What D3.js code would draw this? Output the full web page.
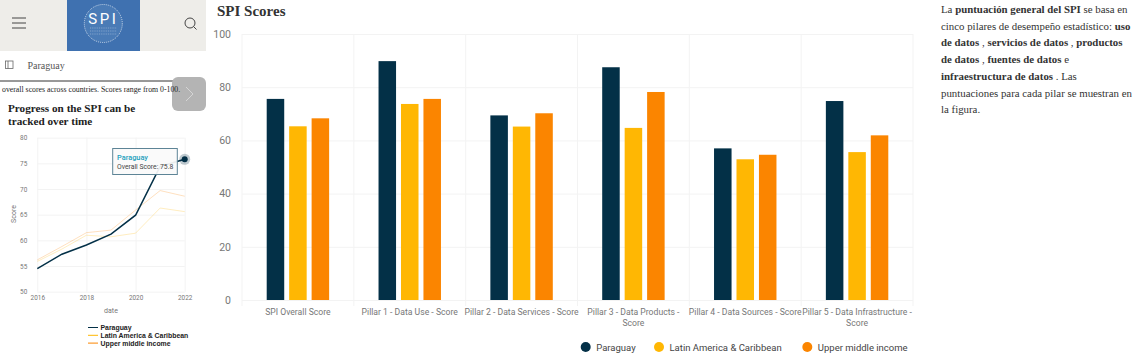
<!DOCTYPE html>
<html><head><meta charset="utf-8">
<script src="https://cdn.jsdelivr.net/npm/d3@7"></script>
<style>
html,body{margin:0;padding:0;background:#fff;overflow:hidden}
svg{display:block}
.serif{font-family:"Liberation Serif",serif}
.rob{font-family:Roboto,sans-serif}
.domain{display:none}
</style></head><body>
<svg id="c" width="1144" height="354"></svg>
<script>
const categories=[["SPI Overall Score"],["Pillar 1 - Data Use - Score"],["Pillar 2 - Data Services - Score"],["Pillar 3 - Data Products -","Score"],["Pillar 4 - Data Sources - Score"],["Pillar 5 - Data Infrastructure -","Score"]];
const seriesNames=["Paraguay","Latin America & Caribbean","Upper middle income"];
const seriesColors=["#033047","#ffb703","#fb8500"];
const paraguayScores=[75.6,89.8,69.4,87.5,57.0,74.8];
const latamScores=[65.3,73.7,65.2,64.7,52.9,55.6];
const upperScores=[68.3,75.6,70.2,78.2,54.6,61.9];
const barTicks=[0,20,40,60,80,100];
const years=[2016,2017,2018,2019,2020,2021,2022];
const paraguayTrend=[54.5,57.3,59.1,61.2,64.9,74.4,75.8];
const latamTrend=[55.9,58.3,61.0,60.7,61.4,66.3,65.6];
const upperTrend=[56.2,58.8,61.5,62.0,65.9,69.7,68.6];
const trendYTicks=[50,55,60,65,70,75,80];
const trendXTicks=[2016,2018,2020,2022];
const paragraphLines=[
 [["La ",0],["puntuación general del SPI",1],[" se basa en",0]],
 [["cinco pilares de desempeño estadístico: ",0],["uso",1]],
 [["de datos",1],[" , ",0],["servicios de datos",1],[" , ",0],["productos",1]],
 [["de datos",1],[" , ",0],["fuentes de datos",1],[" e",0]],
 [["infraestructura de datos",1],[" . Las",0]],
 [["puntuaciones para cada pilar se muestran en",0]],
 [["la figura.",0]]];

const svg=d3.select("#c");
// ---------- header panel
svg.append("rect").attr("width",206).attr("height",51).attr("fill","#eeede9");
svg.append("rect").attr("x",67).attr("width",73).attr("height",51).attr("fill","#3f71b0");
svg.append("circle").attr("cx",103.3).attr("cy",23.5).attr("r",19).attr("fill","#4a7bb6").attr("stroke","#c9d8ea").attr("stroke-width",1).attr("stroke-dasharray","1 1");
svg.append("text").attr("x",103.3).attr("y",24).attr("text-anchor","middle").attr("fill","#fff").attr("font-family","Roboto").attr("font-size",15).attr("letter-spacing",2.5).text("SPI");
[28,31,34].forEach(y=>svg.append("line").attr("x1",90).attr("x2",117).attr("y1",y).attr("y2",y).attr("stroke","#a9c1dd").attr("stroke-width",.6).attr("stroke-dasharray","1 .8"));
[18,23,28].forEach(y=>svg.append("line").attr("x1",12).attr("x2",26).attr("y1",y).attr("y2",y).attr("stroke","#444").attr("stroke-width",1));
svg.append("circle").attr("cx",190).attr("cy",23).attr("r",5).attr("fill","none").attr("stroke","#444").attr("stroke-width",1);
svg.append("line").attr("x1",193.5).attr("y1",26.5).attr("x2",196.5).attr("y2",29.5).attr("stroke","#444");
svg.append("rect").attr("x",5.5).attr("y",61).attr("width",7.5).attr("height",7.5).attr("fill","none").attr("stroke","#666").attr("stroke-width",.8);
svg.append("line").attr("x1",8).attr("x2",8).attr("y1",61).attr("y2",68.5).attr("stroke","#666").attr("stroke-width",.8);
svg.append("text").attr("class","serif").attr("x",27.5).attr("y",69).attr("font-size",10).attr("fill","#555").text("Paraguay");
svg.append("line").attr("x1",0).attr("x2",173).attr("y1",81).attr("y2",81).attr("stroke","#333").attr("stroke-width",1);
svg.append("rect").attr("x",172).attr("y",77).attr("width",34).attr("height",34).attr("rx",6).attr("fill","#b4b4b4");
svg.append("path").attr("d","M186 87l7 7-7 7").attr("fill","none").attr("stroke","#d5d5d5").attr("stroke-width",1);
svg.append("text").attr("class","serif").attr("x",2).attr("y",91.5).attr("font-size",7.8).attr("fill","#222").text("overall scores across countries. Scores range from 0-100.");
svg.append("text").attr("class","serif").attr("x",8).attr("y",112).attr("font-size",11.2).attr("font-weight","bold").attr("fill","#222").text("Progress on the SPI can be");
svg.append("text").attr("class","serif").attr("x",8).attr("y",125).attr("font-size",11.2).attr("font-weight","bold").attr("fill","#222").text("tracked over time");

// ---------- trend chart
const tx=d3.scaleLinear().domain([2016,2022]).range([37.3,184.7]);
const ty=d3.scaleLinear().domain([50,80]).range([291.7,137.7]);
const tg=svg.append("g").attr("class","rob");
const tyAxis=tg.append("g").attr("transform","translate(37.3,0)").call(d3.axisLeft(ty).tickValues(trendYTicks).tickSize(-147.4).tickPadding(10));
const txAxis=tg.append("g").attr("transform","translate(0,291.7)").call(d3.axisBottom(tx).tickValues(trendXTicks).tickFormat(d3.format("d")).tickSize(-154).tickPadding(4));
[tyAxis,txAxis].forEach(a=>{a.selectAll("line").attr("stroke","#f3f3f3");a.selectAll("text").attr("font-family","Roboto").attr("font-size",6.4).attr("fill","#777");});
tg.append("text").attr("transform","translate(16,214) rotate(-90)").attr("text-anchor","middle").attr("font-size",7).attr("fill","#777").text("Score");
tg.append("text").attr("x",111).attr("y",313).attr("text-anchor","middle").attr("font-size",7).attr("fill","#777").text("date");
const tline=d3.line().x((d,i)=>tx(years[i])).y(d=>ty(d));
[[upperTrend,"#fb8500",.25],[latamTrend,"#ffb703",.25],[paraguayTrend,seriesColors[0],1]].forEach(([v,c,o],i)=>{
 tg.append("path").attr("d",tline(v)).attr("fill","none").attr("stroke",c).attr("stroke-opacity",o).attr("stroke-width",i==2?1.5:1);
});
const last=paraguayTrend.length-1;
tg.append("rect").attr("x",112.7).attr("y",148.5).attr("width",64.6).attr("height",26).attr("fill","#fafafa").attr("fill-opacity",.93).attr("stroke","#5d8496").attr("stroke-width",1);
tg.append("circle").attr("cx",tx(years[last])).attr("cy",ty(paraguayTrend[last])).attr("r",5.5).attr("fill",seriesColors[0]).attr("fill-opacity",.25);
tg.append("circle").attr("cx",tx(years[last])).attr("cy",ty(paraguayTrend[last])).attr("r",3).attr("fill",seriesColors[0]);
tg.append("text").attr("x",117).attr("y",160).attr("font-size",7.4).attr("font-weight",500).attr("fill","#219ebc").text(seriesNames[0]);
tg.append("text").attr("x",117).attr("y",168.5).attr("font-size",6.8).attr("fill","#444").text("Overall Score: "+paraguayTrend[last].toFixed(1));
seriesNames.forEach((n,i)=>{
 const y=327.5+i*7.8;
 svg.append("line").attr("x1",88).attr("x2",98).attr("y1",y).attr("y2",y).attr("stroke",seriesColors[i]).attr("stroke-width",1);
 svg.append("text").attr("x",100.5).attr("y",y+2.4).attr("font-family","Liberation Sans").attr("font-weight","bold").attr("font-size",6.9).attr("fill","#222").text(n);
});

// ---------- bar chart
svg.append("text").attr("class","serif").attr("x",217).attr("y",16).attr("font-size",15).attr("font-weight","bold").attr("fill","#333").text("SPI Scores");
const x0=d3.scaleBand().domain(categories.map((d,i)=>i)).range([242,913]);
const x1=d3.scaleBand().domain(seriesNames).range([0,x0.bandwidth()]).paddingInner(.22).paddingOuter(1.1);
const y=d3.scaleLinear().domain([0,100]).range([300,34]);
const g=svg.append("g");
const yA=g.append("g").attr("transform","translate(242,0)").call(d3.axisLeft(y).tickValues(barTicks).tickSize(-671).tickPadding(11));
yA.selectAll("line").attr("stroke","#f3f3f3");
yA.selectAll("text").attr("font-family","Roboto").attr("font-size",10.5).attr("fill","#777");
const edges=categories.map((d,i)=>x0(i)).concat([913]);
g.selectAll(".v").data(edges).join("line").attr("x1",d=>d).attr("x2",d=>d).attr("y1",34).attr("y2",306).attr("stroke","#f3f3f3");
[paraguayScores,latamScores,upperScores].forEach((vals,s)=>{
 g.append("g").selectAll("rect").data(vals).join("rect")
  .attr("x",(d,i)=>x0(i)+x1(seriesNames[s])).attr("width",x1.bandwidth())
  .attr("y",d=>y(d)).attr("height",d=>300-y(d)).attr("fill",seriesColors[s]);
});
categories.forEach((lines,i)=>{
 lines.forEach((l,j)=>g.append("text").attr("x",x0(i)+x0.bandwidth()/2).attr("y",315+j*11.3).attr("text-anchor","middle").attr("font-family","Roboto").attr("font-size",8.65).attr("fill","#777").text(l));
});
const legX=[585.7,659,807.3];
seriesNames.forEach((n,i)=>{
 svg.append("circle").attr("cx",legX[i]).attr("cy",347).attr("r",5).attr("fill",seriesColors[i]);
 svg.append("text").attr("x",legX[i]+10.5).attr("y",351).attr("font-family","Roboto").attr("font-size",9.5).attr("fill","#444").text(n);
});

// ---------- paragraph
const para=svg.append("g").attr("class","serif").attr("font-size",10.85).attr("fill","#333");
paragraphLines.forEach((runs,i)=>{
 const t=para.append("text").attr("x",941).attr("y",13+i*16.7);
 runs.forEach(([s,b])=>t.append("tspan").attr("font-weight",b?"bold":"normal").text(s));
});
</script></body></html>
